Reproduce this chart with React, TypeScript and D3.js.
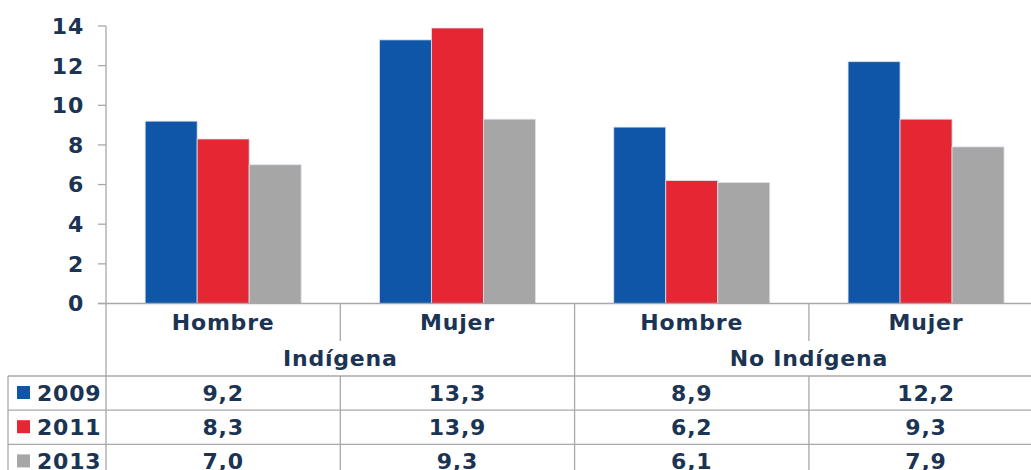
import React from "react";
import * as d3 from "d3";

// data
const categories = ["Hombre", "Mujer", "Hombre", "Mujer"];
const groups = ["Indígena", "No Indígena"];
const years = ["2009", "2011", "2013"];
const v2009 = [9.2, 13.3, 8.9, 12.2];
const v2011 = [8.3, 13.9, 6.2, 9.3];
const v2013 = [7.0, 9.3, 6.1, 7.9];
const yTicks = [0, 2, 4, 6, 8, 10, 12, 14];

const series = [v2009, v2011, v2013];
const colors = ["#0f56a8", "#e52733", "#a6a6a6"];

const width = 1031;
const height = 470;
const marginLeft = 106;
const bandW = 234.3;
const marginTop = 26;
const baseY = 303.5;
const tableLeft = 8;
const rowTop = 376;
const rowH = 34.2;

const textColor = "#1b3453";
const lineColor = "#a8a8a8";
const font = "'DejaVu Sans', Verdana, sans-serif";

const fmt = d3.formatLocale({
  decimal: ",",
  thousands: ".",
  grouping: [3],
  currency: ["", ""],
}).format(".1f");

const App: React.FC = () => {
  const idx = categories.map((_, i) => i.toString());
  const x0 = d3
    .scaleBand()
    .domain(idx)
    .range([marginLeft, marginLeft + bandW * categories.length]);
  const x1 = d3
    .scaleBand()
    .domain(years)
    .range([0, x0.bandwidth()])
    .paddingOuter(0.753);
  const y = d3.scaleLinear().domain([0, 14]).range([baseY, marginTop]);

  const right = marginLeft + bandW * categories.length;
  const grpW = x0.bandwidth() * 2;

  return (
    <svg
      width={width}
      height={height}
      style={{ position: "absolute", left: 0, top: 0, background: "#fff" }}
      fontFamily={font}
      fontWeight="bold"
      letterSpacing={0.8}
    >
      {/* bars */}
      {categories.map((_, ci) =>
        years.map((yr, si) => {
          const v = series[si][ci];
          return (
            <rect
              key={ci + "-" + yr}
              x={(x0(idx[ci]) as number) + (x1(yr) as number)}
              y={y(v)}
              width={x1.bandwidth()}
              height={baseY - y(v)}
              fill={colors[si]}
              stroke="#dbe3ee"
              strokeWidth={0.8}
            />
          );
        })
      )}

      {/* y axis */}
      <line x1={marginLeft} x2={marginLeft} y1={marginTop} y2={height} stroke={lineColor} strokeWidth={1.3} />
      {yTicks.map((t) => (
        <g key={t} transform={`translate(0,${y(t)})`}>
          <line x1={98} x2={marginLeft} stroke={lineColor} strokeWidth={1.3} />
          <text x={84} dy="0.36em" textAnchor="end" fontSize={22} fill={textColor}>
            {t}
          </text>
        </g>
      ))}

      {/* x axis baseline */}
      <line x1={98} x2={right} y1={baseY} y2={baseY} stroke={lineColor} strokeWidth={1.3} />

      {/* category dividers */}
      {categories.map((_, ci) => {
        if (ci === 0) return null;
        const xx = x0(idx[ci]) as number;
        const full = ci % 2 === 0;
        return (
          <line
            key={"d" + ci}
            x1={xx}
            x2={xx}
            y1={baseY}
            y2={full ? height : 341}
            stroke={lineColor}
            strokeWidth={1.3}
          />
        );
      })}

      {/* category labels */}
      {categories.map((c, ci) => (
        <text
          key={"c" + ci}
          x={(x0(idx[ci]) as number) + x0.bandwidth() / 2}
          y={322}
          dy="0.36em"
          textAnchor="middle"
          fontSize={22}
          fill={textColor}
        >
          {c}
        </text>
      ))}

      {/* group labels */}
      {groups.map((g, gi) => (
        <text
          key={"g" + gi}
          x={marginLeft + grpW * gi + grpW / 2}
          y={358}
          dy="0.36em"
          textAnchor="middle"
          fontSize={22}
          fill={textColor}
        >
          {g}
        </text>
      ))}

      {/* data table */}
      {years.map((yr, si) => {
        const top = rowTop + rowH * si;
        return (
          <g key={"r" + yr}>
            <line x1={tableLeft} x2={right} y1={top} y2={top} stroke={lineColor} strokeWidth={1.3} />
            <rect x={17} y={top + 10} width={13} height={13} fill={colors[si]} />
            <text x={37} y={top + rowH / 2} dy="0.36em" fontSize={22} fill={textColor}>
              {yr}
            </text>
            {series[si].map((v, ci) => (
              <text
                key={"v" + ci}
                x={(x0(idx[ci]) as number) + x0.bandwidth() / 2}
                y={top + rowH / 2}
                dy="0.36em"
                textAnchor="middle"
                fontSize={22}
                fill={textColor}
              >
                {fmt(v)}
              </text>
            ))}
          </g>
        );
      })}
      <line x1={tableLeft} x2={tableLeft} y1={rowTop} y2={height} stroke={lineColor} strokeWidth={1.3} />
      {categories.map((_, ci) =>
        ci % 2 === 1 ? (
          <line
            key={"tv" + ci}
            x1={x0(idx[ci]) as number}
            x2={x0(idx[ci]) as number}
            y1={rowTop}
            y2={height}
            stroke={lineColor}
            strokeWidth={1.3}
          />
        ) : null
      )}
    </svg>
  );
};

export default App;
